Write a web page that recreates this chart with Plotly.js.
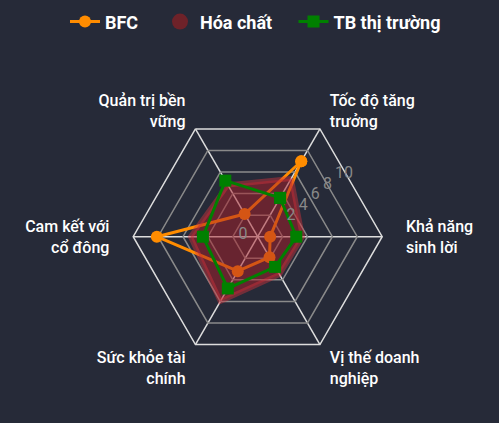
<!DOCTYPE html>
<html>
<head>
<meta charset="utf-8">
<script src="https://cdn.plot.ly/plotly-3.0.1.min.js"></script>
<style>html,body{margin:0;padding:0;background:#262a38;}</style>
</head>
<body>
<div id="chart" style="width:499px;height:423px;"></div>
<script>
const categories = ["Tốc độ tăng trưởng", "Khả năng sinh lời", "Vị thế doanh nghiệp", "Sức khỏe tài chính", "Cam kết với cổ đông", "Quản trị bền vững"];
const categoryLabels = ["Tốc độ tăng<br>trưởng", "Khả năng<br>sinh lời", "Vị thế doanh<br>nghiệp", "Sức khỏe tài<br>chính", "Cam kết với<br>cổ đông", "Quản trị bền<br>vững"];
const bfc = [7.0, 1.0, 1.9, 3.2, 8.1, 2.1];
const hoaChat = [5.4, 3.6, 3.5, 6.0, 5.4, 4.8];
const tbThiTruong = [3.6, 3.1, 2.8, 4.8, 4.4, 5.2];
const radialTicks = [0, 2, 4, 6, 8, 10];

function closeLoop(a) { return a.concat([a[0]]); }
const theta = closeLoop(categories);

// spacing between the hexagon and the category labels
const NB = "\u00a0";
const padSpec = [[2, "lead"], [5, "lead"], [2, "lead"], [2, "trail"], [5, "trail"], [2, "trail"]];
const paddedLabels = categoryLabels.map((lab, i) => lab.split("<br>").map(line =>
  padSpec[i][1] === "lead" ? NB.repeat(padSpec[i][0]) + line : line + NB.repeat(padSpec[i][0])
).join("<br>"));

const traces = [
  {
    type: "scatterpolar", name: "BFC", r: closeLoop(bfc), theta: theta, legend: "legend",
    mode: "lines+markers", line: {color: "#ff8c00", width: 3},
    marker: {color: "#ff8c00", size: 12, symbol: "circle"}
  },
  {
    type: "scatterpolar", name: "Hóa chất", r: closeLoop(hoaChat), theta: theta,
    mode: "lines", fill: "toself", fillcolor: "rgba(170,30,40,0.5)",
    line: {color: "rgba(210,50,60,0.45)", width: 5}, showlegend: false
  },
  {
    type: "scatterpolar", name: "Hóa chất", r: [null], theta: [categories[0]], legend: "legend2",
    mode: "markers", marker: {color: "#6e2229", size: 19, symbol: "circle"}
  },
  {
    type: "scatterpolar", name: "TB thị trường", r: closeLoop(tbThiTruong), theta: theta, legend: "legend3",
    mode: "lines+markers", line: {color: "#008000", width: 3},
    marker: {color: "#008000", size: 12, symbol: "square"}
  },
  {
    type: "scatterpolar", subplot: "polar2", r: [null], theta: [null],
    mode: "markers", showlegend: false, hoverinfo: "skip"
  }
];

const polarDomain = {x: [0.2669, 0.7659], y: [0.1657, 0.8332]};
const labelDomain = {x: [0.2529, 0.7519], y: [0.1791, 0.8466]};
const legendFont = {family: "Roboto", size: 18, color: "#ffffff", weight: 700};
function legendAt(xPix) {
  return {
    orientation: "h", xref: "container", yref: "container",
    x: xPix / 499, xanchor: "left", y: 0.992, yanchor: "top",
    font: legendFont, bgcolor: "rgba(0,0,0,0)", itemsizing: "trace"
  };
}

const layout = {
  width: 499, height: 423,
  paper_bgcolor: "#262a38", plot_bgcolor: "#262a38",
  margin: {l: 0, r: 0, t: 50, b: 0},
  showlegend: true,
  legend: legendAt(65),
  legend2: legendAt(160),
  legend3: legendAt(293.5),
  polar: {
    domain: polarDomain,
    bgcolor: "rgba(0,0,0,0)",
    gridshape: "linear",
    angularaxis: {
      direction: "clockwise", rotation: 60,
      tickvals: categories, ticktext: paddedLabels,
      tickfont: {family: "Roboto", size: 16, color: "#ffffff", weight: 500},
      gridcolor: "#dddddd", linecolor: "#dddddd", linewidth: 1.5, gridwidth: 1.5,
      ticks: ""
    },
    radialaxis: {
      range: [0, 10], tickvals: radialTicks, ticktext: ["0", "", "", "", "", ""],
      angle: 60, tickangle: 60, side: "counterclockwise",
      tickfont: {family: "Roboto", size: 16, color: "#888888"},
      gridcolor: "#8a8a8a", gridwidth: 1.5, showline: false, ticks: ""
    }
  },
  polar2: {
    domain: labelDomain,
    bgcolor: "rgba(0,0,0,0)",
    angularaxis: {visible: false},
    radialaxis: {
      range: [-3, 12.56], tickvals: radialTicks.slice(1), angle: 40.7, tickangle: 40.7,
      tickfont: {family: "Roboto", size: 16, color: "#888888"},
      showgrid: false, showline: false, ticks: ""
    }
  }
};

Plotly.newPlot("chart", traces, layout, {displayModeBar: false, staticPlot: true});
</script>
</body>
</html>
